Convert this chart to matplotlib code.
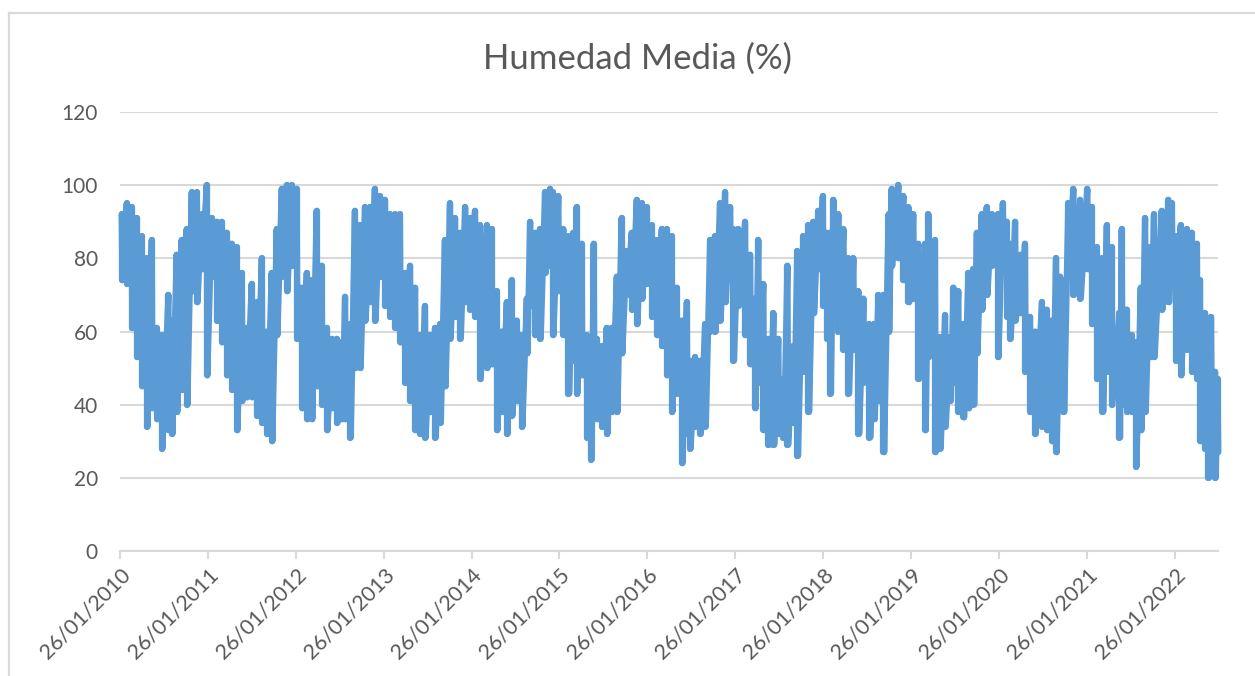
import numpy as np
import matplotlib
matplotlib.use("Agg")
import matplotlib.pyplot as plt
import matplotlib.dates as mdates
from matplotlib.lines import Line2D

START = np.datetime64("2010-01-26")
TITLE = "Humedad Media (%)"
y_ticks = [0, 20, 40, 60, 80, 100, 120]
tick_years = list(range(2010, 2023))

days_a = [7,28,48,69,90,111,132,152,173,201,215,235,256,277,298,319,339,360,381,402,422,443,464,485,506,526,547,568,589,609,630,651,672,693,713,734,755,776,796,817,838,859,880,900,921,935,956,976,997,1018,1039,1059,1080]
high_a = [92,95,94,91,86,80,85,61,59,70,63,81,85,88,98,98,92,100,91,90,90,87,84,83,76,61,73,68,80,60,76,88,99,100,100,99,72,76,74,93,78,61,58,58,57,69.5,62,93,89,94,94,99,97]
low_a = [74,73,61,53,45,34,39,36,28,33,32,38,44,40,71,68,77,48,75,63,57,48,44,33,41,42,42,37,35,32,30,59,75,71,78,58,39,36,36,45,40,33,39,35,36,36,31,50,50,63,68,63,75]

days_b = [1101,1122,1143,1163,1184,1205,1226,1247,1267,1288,1309,1330,1350,1371,1392,1413,1434,1454,1475,1496,1524,1544,1565,1586,1607,1627,1648,1669,1690,1704,1724,1745,1766,1787,1798,1821,1842,1863,1884,1897,1918,1939,1957,1968,1981,2001,2022,2043,2064,2084,2105,2126,2147,2168,2188,2209,2230]
high_b = [96,92,92,92,76,78,72,59,67,59,61,62,85,95,91,87,94,91,93,89,89,88,71,60,68,74,63,59,69,90,87,88,98,99,98,97,88,86,87,94,84,59,58,84,58,56,61,61,75,91,82,87,96,95,94,89,85]
low_b = [67,64,61,57,46,41,33,32,31,38,31,35,45,58,64,58,68,66,64,47,50,51,33,38,32,37,41,34,54,67,59,58,76,78,59,71,59,43,52,43,48,31,25,45,36,34,32,38,38,54,70,66,62,69,73,64,59]

days_c = [2251,2271,2292,2313,2334,2355,2368,2389,2410,2431,2452,2472,2493,2514,2535,2548,2569,2597,2618,2638,2652,2673,2694,2715,2735,2756,2773,2798,2814,2839,2860,2881,2902,2920,2936,2951,2964,2985,3006,3026,3047,3068,3089,3114,3133,3151,3172,3193,3206,3234,3255,3276,3296,3317,3345,3359]
high_c = [88,88,86,72,63,68,52,53,52,62,85,86,95,98,94,88,88,90,81,69,85,73,58,65,58,47,78,56,82,86,89,90,93,97,87,87,96,92,88,80,80,71,69,62,62,70,70,92,99,100,97,94,92,84,84,92]
low_c = [56,48,38,43,24,32,28,34,32,34,60,60,63,68,74,52,67,59,51,39,46,33,29,29,32,31,29,35,26,49,38,65,77,67,58,43,68,60,55,43,55,32,46,31,36,41,27,60,78,80,74,68,69,47,33,53]

days_d = [3386,3407,3428,3449,3463,3483,3504,3525,3546,3560,3580,3601,3622,3647,3668,3684,3698,3719,3740,3760,3781,3802,3830,3850,3871,3889,3906,3920,3940,3961,3989,4019,4037,4058,4082,4100,4120,4152,4162,4183,4203,4220,4241,4259,4280,4296,4328,4356,4370,4386,4407,4432,4453,4474,4487,4508,4522,4533,4550,4560]
high_d = [85,58.5,64.5,58.5,72,71,62,76,77,87,92,94,92,92,95,90,84,90,81,84,64,60,68,66,63,80,75,74,95,99,96,99,94,83,80,89,83,65,88,66,59,57,72,91,83,92,93,96,95,86,89,88,87,84,74,65,57,64,49,47]
low_d = [27,28,34,41,46,38,36.5,39,40,54,66,70,78,53,79,64,58,63,65,49,38,32,34,33,30,27,40,38,78,70,69,77,62,47,38,49,40,31,40,38,38,23,33,38,53,53,66,68,77,52,48,55,49,47,30,28,20,40,20,27]

days = np.array(days_a + days_b + days_c + days_d)
high = np.array(high_a + high_b + high_c + high_d, dtype=float)
low = np.array(low_a + low_b + low_c + low_d, dtype=float)

values = np.column_stack([high, low]).ravel()
x_days = np.column_stack([days, days + 3]).ravel()
dates = START + x_days.astype("timedelta64[D]")
bar_dates = START + days.astype("timedelta64[D]")

BLUE = "#5B9BD5"
GRID = "#D9D9D9"
TEXT = "#595959"
FONT = ["Lato", "DejaVu Sans"]

W, H = 1255, 676
fig = plt.figure(figsize=(W / 100, H / 100), dpi=100, facecolor="white")
ax = fig.add_axes([120 / W, 1 - 551 / H, (1218 - 120) / W, (551 - 112) / H])

# zigzag of the series, plus each period's full swing so the band reads solid
ax.plot(dates, values, color=BLUE, lw=4.5, solid_capstyle="round",
        solid_joinstyle="round", clip_on=False, zorder=3)
swings = ax.vlines(bar_dates, low, high, color=BLUE, lw=4.5, zorder=3, clip_on=False)
swings.set_capstyle("round")

ax.set_ylim(0, 120)
ax.set_xlim(START, START + np.timedelta64(4562, "D"))
ax.set_yticks(y_ticks)
ax.set_xticks([np.datetime64(f"{y}-01-26") for y in tick_years])
ax.xaxis.set_major_formatter(mdates.DateFormatter("%d/%m/%Y"))

ax.grid(axis="y", color=GRID, lw=1.5, zorder=0)
ax.set_axisbelow(True)
for s in ("top", "right", "left"):
    ax.spines[s].set_visible(False)
ax.spines["bottom"].set_color(GRID)
ax.spines["bottom"].set_linewidth(1.5)
ax.tick_params(axis="y", length=0, pad=16, labelcolor=TEXT, labelsize=15)
ax.tick_params(axis="x", length=5.5, width=1.5, color=GRID, pad=4, labelcolor=TEXT, labelsize=15.5)
for t in ax.get_yticklabels():
    t.set_fontfamily(FONT)
for t in ax.get_xticklabels():
    t.set_fontfamily(FONT)
    t.set_rotation(45)
    t.set_ha("right")
    t.set_va("top")
    t.set_rotation_mode("anchor")

fig.text(638 / W, 1 - 59 / H, TITLE, ha="center", va="center", color=TEXT,
         fontsize=25, family=FONT)

fig.add_artist(Line2D([9 / W, 9 / W], [0, 1 - 13 / H], color=GRID, lw=1.6))
fig.add_artist(Line2D([9 / W, 1], [1 - 13 / H, 1 - 13 / H], color=GRID, lw=1.6))

fig.savefig("out.png", dpi=100, facecolor="white")
